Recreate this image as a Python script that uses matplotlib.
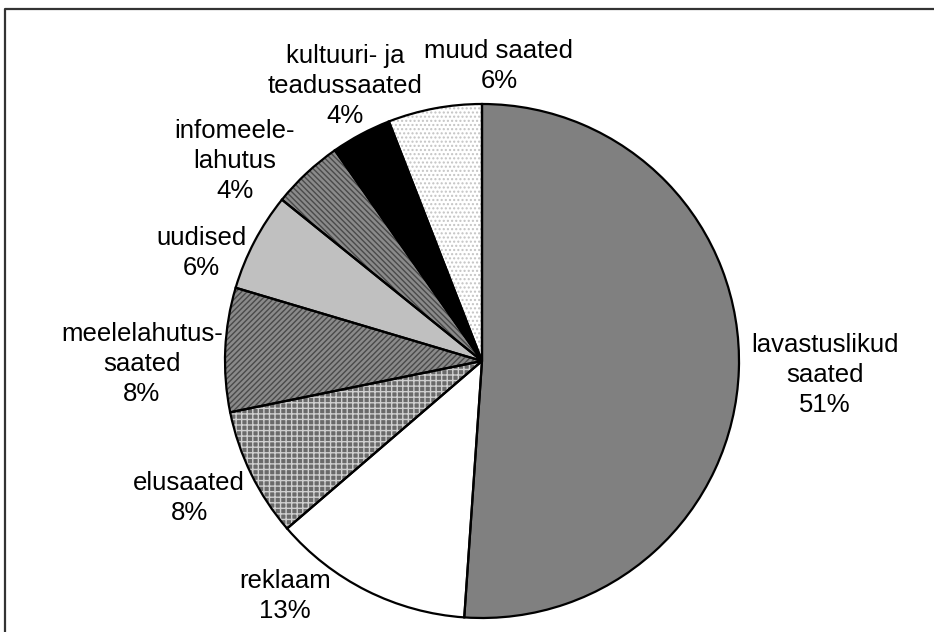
import matplotlib.pyplot as plt

# share of programme types
categories = [
    "lavastuslikud\nsaated",
    "reklaam",
    "elusaated",
    "meelelahutus-\nsaated",
    "uudised",
    "infomeele-\nlahutus",
    "kultuuri- ja\nteadussaated",
    "muud saated",
]
shares = [51.1, 12.6, 8.1, 7.8, 6.2, 4.5, 3.8, 5.9]
pct_labels = ["51%", "13%", "8%", "8%", "6%", "4%", "4%", "6%"]

# look of each slice: fill, hatch, hatch colour
fills = ["#808080", "#ffffff", "#6a6a6a", "#8a8a8a", "#c0c0c0", "#8a8a8a", "#000000", "#ffffff"]
hatches = [None, None, "+++", "//////", None, "\\\\\\\\\\\\", None, "...."]
hatch_cols = ["#808080", "#ffffff", "#cfcfcf", "#4a4a4a", "#c0c0c0", "#4a4a4a", "#000000", "#c4c4c4"]

# label centres in pixels (x from left, y from top)
label_pos = [(825, 375), (285, 596), (189, 498), (142, 364),
             (201, 253), (235, 161), (345, 86), (499, 66)]

W, H = 934, 632
plt.rcParams["font.family"] = ["Liberation Sans", "DejaVu Sans"]
plt.rcParams["hatch.linewidth"] = 1.0

fig = plt.figure(figsize=(W / 100, H / 100), dpi=100)
ax = fig.add_axes([0, 0, 1, 1])

centre = (482, H - 361)
radius = 257

# fills + hatches
wedges, _ = ax.pie(
    shares,
    startangle=90,
    counterclock=False,
    center=centre,
    radius=radius,
    frame=True,
)
for w, fc, h, hc in zip(wedges, fills, hatches, hatch_cols):
    w.set_facecolor(fc)
    w.set_edgecolor(hc)
    w.set_linewidth(0)
    if h:
        w.set_hatch(h)

# black outlines on top
ax.pie(
    shares,
    startangle=90,
    counterclock=False,
    center=centre,
    radius=radius,
    frame=True,
    wedgeprops={"facecolor": "none", "edgecolor": "black", "linewidth": 1.6},
)

ax.set_xlim(0, W)
ax.set_ylim(0, H)
ax.set_aspect("equal")
ax.axis("off")

for cat, pct, (x, y) in zip(categories, pct_labels, label_pos):
    ax.text(x, H - y, cat + "\n" + pct, ha="center", va="center",
            fontsize=18.5, linespacing=1.32, color="black")

# frame (only top and left edges are visible in the crop)
ax.plot([5, 5, W], [0, H - 9, H - 9], color="#333333", linewidth=1.6,
        solid_capstyle="butt", clip_on=False)

fig.savefig("out.png", dpi=100, facecolor="white")
